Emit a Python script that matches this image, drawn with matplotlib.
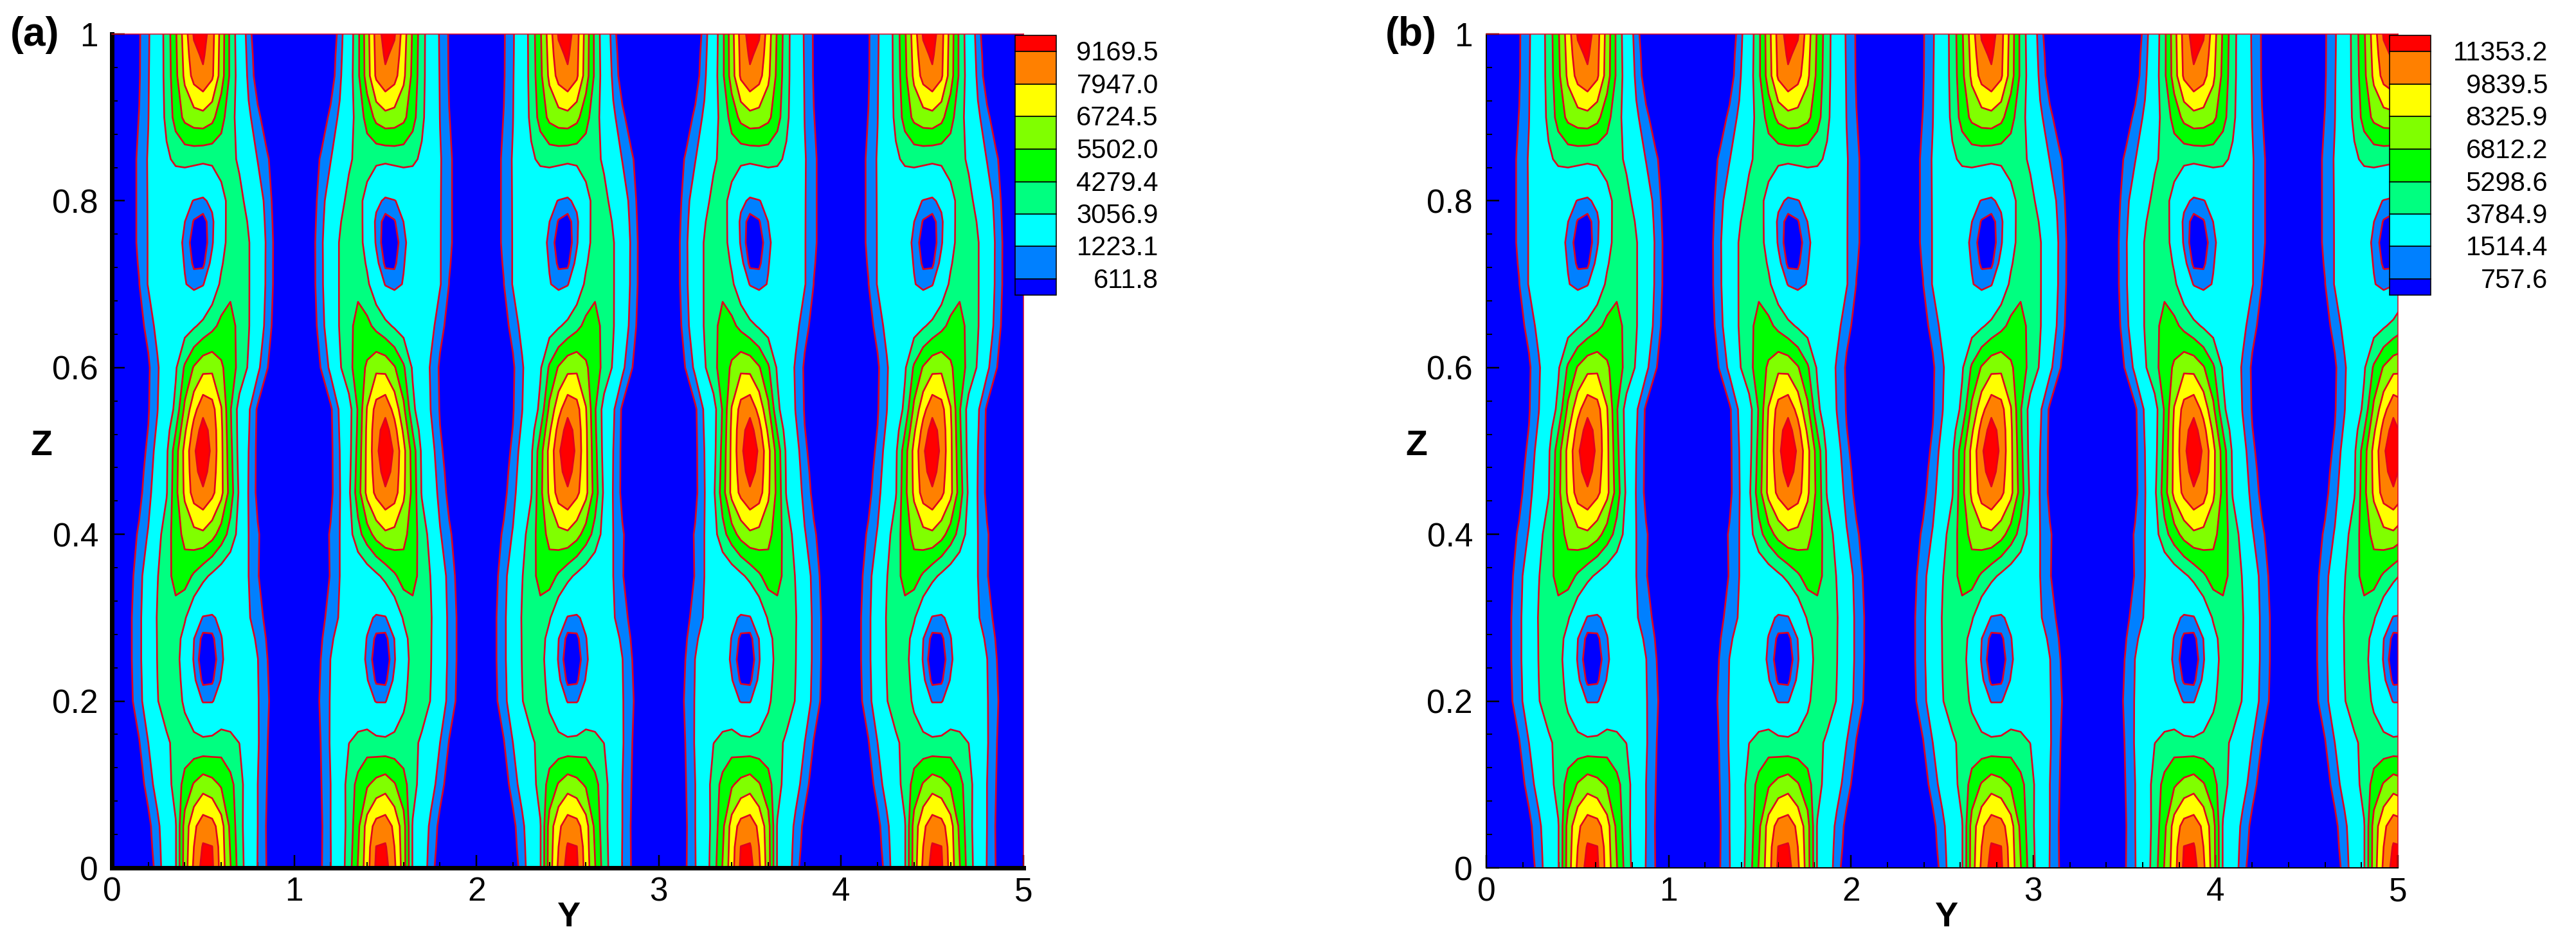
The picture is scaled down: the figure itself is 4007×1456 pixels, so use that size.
import numpy as np
import matplotlib
matplotlib.use("Agg")
import matplotlib.pyplot as plt
from matplotlib.patches import Rectangle

plt.rcParams["font.family"] = ["Liberation Sans", "DejaVu Sans"]

FIG_W, FIG_H = 4007, 1456

# contour levels and legend labels
LEVELS_A = [611.8, 1223.1, 3056.9, 4279.4, 5502.0, 6724.5, 7947.0, 9169.5]
LEVELS_B = [757.6, 1514.4, 3784.9, 5298.6, 6812.2, 8325.9, 9839.5, 11353.2]
COLORS = ["#0000ff", "#0080ff", "#00ffff", "#00ff80", "#00ff00", "#80ff00", "#ffff00", "#ff8000", "#ff0000"]

# roll centres along Y
CENTRES_A = [0.5, 1.5, 2.5, 3.5, 4.5]
CENTRES_B = [0.555, 1.655, 2.77, 3.88, 4.975]

# one roll: rows are Z from 1 down to 0, columns are Y offset from the centre
ROW_Z = [1.0, 0.975, 0.95, 0.9, 0.85, 0.8, 0.775, 0.75, 0.725, 0.7, 0.65, 0.6, 0.55, 0.525, 0.5,
         0.475, 0.45, 0.4, 0.35, 0.3, 0.275, 0.25, 0.225, 0.2, 0.15, 0.1, 0.05, 0.025, 0.0]
COL_Y = [-0.45, -0.4, -0.35, -0.3, -0.25, -0.2, -0.15, -0.1, -0.05, 0.0,
         0.05, 0.1, 0.15, 0.2, 0.25, 0.3, 0.35, 0.4, 0.45]
ROLL = [
    [200, 300, 550, 1100, 2170, 3550, 5340, 7340, 9300, 9760, 8400, 6240, 3990, 2220, 760, 300, 150, 100, 100],
    [200, 300, 555, 1120, 2190, 3510, 5260, 7170, 8850, 9350, 8280, 6170, 4000, 2290, 880, 300, 150, 100, 100],
    [200, 300, 560, 1150, 2220, 3480, 5180, 7000, 8400, 8950, 8170, 6110, 4020, 2360, 1000, 300, 150, 100, 100],
    [200, 350, 630, 1200, 2250, 3330, 4770, 5800, 6200, 6300, 5850, 4700, 3550, 2500, 1380, 750, 300, 120, 100],
    [250, 420, 700, 1300, 2070, 2850, 3300, 3450, 3400, 3300, 3350, 3600, 3400, 2860, 2000, 1180, 700, 300, 120],
    [250, 420, 700, 1280, 1600, 1950, 1850, 1500, 1180, 1040, 1500, 2600, 3500, 3400, 2650, 1800, 900, 350, 150],
    [250, 420, 700, 1275, 1620, 1900, 1750, 1230, 550, 350, 1000, 2500, 3600, 3950, 2900, 1950, 1000, 370, 150],
    [250, 420, 700, 1270, 1650, 1850, 1650, 1050, 250, 180, 1100, 2450, 3700, 3950, 3150, 2100, 1080, 400, 150],
    [220, 410, 650, 1275, 1700, 1900, 1700, 1170, 480, 450, 1500, 2900, 3800, 3850, 3150, 2100, 1060, 400, 150],
    [200, 400, 600, 1280, 1750, 1950, 1750, 1280, 950, 1150, 2200, 3300, 3900, 3700, 3150, 2100, 1050, 400, 150],
    [150, 250, 420, 780, 1500, 1950, 2200, 2500, 2900, 3400, 3950, 4600, 4800, 3850, 3150, 1950, 900, 350, 150],
    [100, 150, 250, 520, 1100, 2000, 2900, 4450, 5610, 6350, 6450, 5700, 4800, 3950, 2900, 1400, 650, 300, 120],
    [100, 150, 280, 560, 1190, 2200, 3360, 5780, 7540, 8800, 8400, 6800, 4400, 2520, 1330, 500, 200, 120, 100],
    [100, 170, 310, 630, 1350, 2500, 4200, 6500, 8400, 9700, 8700, 7000, 4500, 2550, 1280, 470, 200, 120, 100],
    [100, 200, 350, 720, 1560, 2830, 4950, 7100, 8920, 10300, 8790, 7050, 4680, 2570, 1223, 450, 200, 120, 100],
    [120, 220, 400, 830, 1700, 2900, 5050, 7050, 8750, 9700, 8550, 7070, 4800, 2680, 1190, 450, 200, 120, 100],
    [150, 250, 450, 940, 1850, 2950, 5150, 6950, 8500, 8950, 8250, 7080, 4940, 2800, 1150, 450, 200, 120, 100],
    [200, 350, 700, 1290, 2600, 3720, 4850, 5900, 6350, 6500, 5950, 4950, 3830, 2570, 1223, 680, 280, 120, 100],
    [250, 450, 900, 1850, 3000, 3830, 4700, 4800, 4100, 3400, 2800, 2300, 2000, 1700, 1223, 650, 300, 120, 100],
    [250, 520, 1000, 2000, 3150, 3750, 3800, 3200, 2000, 1150, 1100, 1450, 1800, 1800, 1300, 850, 450, 150, 100],
    [250, 520, 1000, 2000, 3120, 3850, 3600, 2600, 1240, 400, 450, 1180, 1800, 1950, 1550, 1080, 560, 180, 100],
    [250, 520, 1000, 2000, 3100, 3900, 3500, 2450, 1130, 150, 230, 1060, 1800, 2050, 1700, 1240, 650, 200, 100],
    [250, 500, 960, 1900, 3050, 3800, 3550, 2650, 1400, 450, 500, 1280, 1950, 2100, 1750, 1260, 690, 220, 100],
    [250, 480, 920, 1850, 3000, 3650, 3600, 2850, 1950, 1150, 1150, 1700, 2100, 2150, 1800, 1280, 730, 250, 100],
    [150, 300, 580, 1223, 2030, 2840, 3400, 3600, 3450, 3370, 3450, 3700, 3400, 3040, 2200, 1300, 650, 250, 100],
    [100, 180, 350, 820, 1600, 2500, 3550, 4700, 5600, 6200, 5900, 5350, 4650, 3600, 2200, 1223, 612, 250, 100],
    [100, 150, 250, 450, 1000, 1950, 2950, 6000, 7700, 8600, 8400, 7250, 5200, 3500, 2300, 1223, 550, 200, 100],
    [100, 150, 240, 420, 870, 1920, 2950, 6050, 7950, 9300, 9200, 7350, 5400, 3600, 2300, 1200, 565, 200, 100],
    [100, 150, 230, 400, 750, 1900, 2950, 6100, 8200, 9650, 9400, 7450, 5580, 3700, 2300, 1180, 580, 200, 100],
]

TICKS_Y = [0, 1, 2, 3, 4, 5]
TICKS_Z = [0, 0.2, 0.4, 0.6, 0.8, 1]
TICK_LABELS_Z = ["0", "0.2", "0.4", "0.6", "0.8", "1"]
MINOR_Y = [0.2, 0.4, 0.6, 0.8, 1.2, 1.4, 1.6, 1.8, 2.2, 2.4, 2.6, 2.8,
           3.2, 3.4, 3.6, 3.8, 4.2, 4.4, 4.6, 4.8]
MINOR_Z = [0.04, 0.08, 0.12, 0.16, 0.24, 0.28, 0.32, 0.36, 0.44, 0.48, 0.52, 0.56,
           0.64, 0.68, 0.72, 0.76, 0.84, 0.88, 0.92, 0.96]

LEGEND_EDGES = [55.3, 80.3, 131.3, 181.3, 232.3, 283.3, 333.3, 383.3, 434.3, 459.3]


def px(v):
    return v * 0.72


def build_field(centres, scale, stretch):
    roll = np.array(ROLL, dtype=float)[::-1] * scale
    offsets = np.array(COL_Y) * stretch
    ys, cols = [], []
    for i, c in enumerate(centres):
        ys.append(c + offsets)
        cols.append(roll if i % 2 == 0 else roll[:, ::-1])
    y = np.concatenate(ys)
    field = np.hstack(cols)
    # blue margin out to both sides of the box
    y = np.concatenate([[-0.5], y, [6.0]])
    field = np.hstack([field[:, :1], field, field[:, -1:]])
    return y, np.array(ROW_Z)[::-1], field


def draw_panel(fig, left, levels, centres, stretch, thick, tag, tag_right, lab_y, lab_z, leg_left, leg_text):
    top, bottom, width = 53, 1350, 1418
    ax = fig.add_axes([left / FIG_W, 1 - bottom / FIG_H, width / FIG_W, (bottom - top) / FIG_H])
    y, z, field = build_field(centres, levels[-1] / LEVELS_A[-1], stretch)
    bounds = [-1e6] + levels + [1e6]
    ax.contourf(y, z, field, levels=bounds, colors=COLORS)
    ax.contour(y, z, field, levels=levels, colors="#e0001e", linewidths=px(2.6))

    ax.set_xlim(0, 5)
    ax.set_ylim(0, 1)
    ax.set_xticks(TICKS_Y, [str(t) for t in TICKS_Y])
    ax.set_yticks(TICKS_Z, TICK_LABELS_Z)
    ax.set_xticks(MINOR_Y, minor=True)
    ax.set_yticks(MINOR_Z, minor=True)
    ax.tick_params(which="major", direction="in", length=px(20), width=px(2.5), labelsize=37, pad=px(13))
    ax.tick_params(which="minor", direction="in", length=px(9), width=px(2))
    ax.tick_params(axis="y", which="major", pad=px(21))

    edge = px(7) if thick else px(2)
    for name in ("left", "bottom"):
        ax.spines[name].set_color("black")
        ax.spines[name].set_linewidth(edge)
    for name in ("top", "right"):
        ax.spines[name].set_color("#e0001e")
        ax.spines[name].set_linewidth(px(1.5))

    # legend box sits over the top right corner
    for i, c in enumerate(COLORS[::-1]):
        y0, y1 = LEGEND_EDGES[i], LEGEND_EDGES[i + 1]
        fig.add_artist(Rectangle((leg_left / FIG_W, 1 - y1 / FIG_H), 64 / FIG_W, (y1 - y0) / FIG_H,
                                 transform=fig.transFigure, facecolor=c, edgecolor="black", linewidth=px(1.6)))
    for value, yp in zip(levels[::-1], LEGEND_EDGES[1:-1]):
        fig.text(leg_text / FIG_W, 1 - (yp + 3) / FIG_H, f"{value:.1f}", ha="right", va="center", fontsize=30)

    fig.text(tag_right / FIG_W, 1 - 71 / FIG_H, tag, ha="right", va="baseline", fontsize=45, fontweight="bold")
    fig.text(lab_y / FIG_W, 1 - 1441 / FIG_H, "Y", ha="center", va="baseline", fontsize=39, fontweight="bold")
    fig.text(lab_z / FIG_W, 1 - 708 / FIG_H, "Z", ha="center", va="baseline", fontsize=40, fontweight="bold")


def main():
    fig = plt.figure(figsize=(FIG_W / 100, FIG_H / 100), dpi=100, facecolor="white")
    draw_panel(fig, 174, LEVELS_A, CENTRES_A, 1.0, True, "(a)", 92, 884, 64, 1579, 1802)
    draw_panel(fig, 2312, LEVELS_B, CENTRES_B, 1.07, False, "(b)", 2235, 3027, 2203, 3717, 3963)
    fig.savefig("out.png", dpi=100, facecolor="white")
    plt.close(fig)


if __name__ == "__main__":
    main()
